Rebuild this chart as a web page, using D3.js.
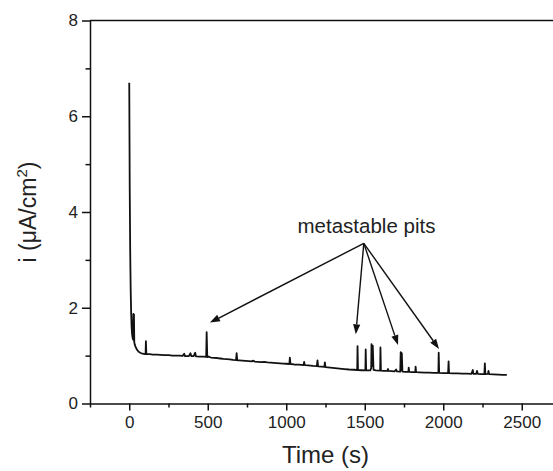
<!DOCTYPE html>
<html><head><meta charset="utf-8">
<script src="https://cdn.jsdelivr.net/npm/d3@7/dist/d3.min.js"></script>
<style>html,body{margin:0;padding:0;background:#fff;overflow:hidden;}svg{display:block;}</style>
</head><body>
<svg id="chart" width="620" height="471"></svg>
<script>
// ---- data ----
// initial decay, time (s) and current (µA/cm²)
const decayTime    = [0, 3, 6, 9, 12, 15, 18, 21, 24, 26, 28, 30, 32, 36, 42, 50, 60, 70, 85, 100];
const decayCurrent = [6.7, 4.5, 3.2, 2.4, 1.9, 1.6, 1.45, 1.38, 1.34, 1.87, 1.32, 1.86, 1.28, 1.22, 1.17, 1.12, 1.08, 1.06, 1.04, 1.03];
// passive region with metastable pit transients
const traceTime = [104,106,109,130,150,175,200,225,250,275,300,320,340,350,355,380,390,395,410,420,425,450,470,490,493,497,505,520,540,560,580,600,620,640,660,680,684,688,700,720,740,760,780,790,800,820,840,860,880,900,920,940,960,980,1000,1020,1023,1027,1050,1080,1110,1114,1118,1140,1170,1195,1199,1203,1225,1243,1246,1250,1280,1310,1340,1370,1400,1430,1452,1454,1457,1480,1504,1506,1509,1520,1535,1541,1543,1547,1551,1556,1570,1598,1600,1603,1620,1645,1648,1652,1670,1690,1700,1705,1726,1729,1733,1736,1740,1760,1778,1780,1783,1800,1822,1824,1827,1850,1880,1910,1940,1969,1971,1974,2000,2031,2034,2037,2060,2090,2120,2150,2180,2188,2192,2210,2215,2220,2240,2262,2265,2268,2285,2288,2292,2320,2350,2380,2405];
const traceCurrent = [1.03,1.30,1.03,1.03,1.02,1.02,1.015,1.01,1.01,1.0,1.0,1.0,0.995,1.04,0.99,0.99,1.05,0.99,0.99,1.06,0.985,0.98,0.98,0.975,1.49,0.97,0.98,0.96,0.955,0.95,0.94,0.93,0.925,0.92,0.91,0.905,1.05,0.9,0.9,0.895,0.89,0.885,0.88,0.895,0.875,0.87,0.865,0.87,0.86,0.855,0.85,0.845,0.84,0.835,0.83,0.825,0.96,0.825,0.815,0.81,0.80,0.87,0.80,0.795,0.785,0.78,0.90,0.775,0.77,0.765,0.86,0.76,0.75,0.74,0.73,0.72,0.71,0.705,0.70,1.20,0.70,0.695,0.69,1.13,0.69,0.69,0.69,0.74,1.24,0.78,1.21,0.70,0.69,0.685,1.17,0.685,0.68,0.68,0.72,0.68,0.675,0.67,0.71,0.67,0.665,1.07,0.70,1.05,0.665,0.66,0.66,0.75,0.66,0.655,0.655,0.77,0.655,0.65,0.645,0.645,0.64,0.64,1.06,0.64,0.635,0.635,0.88,0.635,0.63,0.63,0.625,0.625,0.62,0.70,0.62,0.62,0.68,0.62,0.615,0.615,0.84,0.615,0.62,0.68,0.615,0.61,0.605,0.6,0.6];

const xTicks = [0, 500, 1000, 1500, 2000, 2500];
const xMinorTicks = [-250, 250, 750, 1250, 1750, 2250];
const yTicks = [0, 2, 4, 6, 8];
const yMinorTicks = [1, 3, 5, 7];

const annotationText = "metastable pits";
const annotationLabel = [1511, 3.57];        // text anchor (time, current)
const arrowOrigin = [1494, 3.345];
const arrowTips = [[514, 1.69], [1443, 1.445], [1712, 1.22], [1973, 1.14]];

// ---- drawing ----
const svg = d3.select("#chart");
// the frame runs past the right edge of the 553px window, as in the reference
const x = d3.scaleLinear().domain([-250, 3000]).range([90, 600.25]);
const y = d3.scaleLinear().domain([0, 8]).range([403.5, 20.5]);
const font = "'Liberation Sans', Arial, sans-serif";
const ink = "#111";

// x axis
svg.append("g").attr("transform", `translate(0,${y(0)})`)
  .call(d3.axisBottom(x).tickValues(xTicks).tickFormat(d3.format("d")).tickSize(7).tickSizeOuter(0).tickPadding(5));
svg.append("g").attr("transform", `translate(0,${y(0)})`)
  .call(d3.axisBottom(x).tickValues(xMinorTicks).tickSize(4).tickSizeOuter(0).tickFormat(""))
  .select(".domain").remove();
// y axis
svg.append("g").attr("transform", `translate(${x(-250)},0)`)
  .call(d3.axisLeft(y).tickValues(yTicks).tickFormat(d3.format("d")).tickSize(8).tickSizeOuter(0).tickPadding(4));
svg.append("g").attr("transform", `translate(${x(-250)},0)`)
  .call(d3.axisLeft(y).tickValues(yMinorTicks).tickSize(4.5).tickSizeOuter(0).tickFormat(""))
  .select(".domain").remove();
// top border
svg.append("line").attr("x1", x(-250)).attr("x2", x(3000)).attr("y1", y(8)).attr("y2", y(8))
  .attr("stroke", ink).attr("stroke-width", 1.5);

svg.selectAll(".domain").attr("stroke", ink).attr("stroke-width", 1.5);
svg.selectAll(".tick line").attr("stroke", ink).attr("stroke-width", 1.5);
svg.selectAll(".tick text").attr("font-family", font).attr("font-size", 17).attr("fill", "#222");

// data line
const pts = decayTime.map((t, i) => [t, decayCurrent[i]])
  .concat(traceTime.map((t, i) => [t, traceCurrent[i]]));
svg.append("path").datum(pts)
  .attr("d", d3.line().x(d => x(d[0])).y(d => y(d[1])))
  .attr("fill", "none").attr("stroke", ink).attr("stroke-width", 1.8)
  .attr("stroke-linejoin", "round");

// axis titles
svg.append("text").attr("x", x(1250)).attr("y", 463)
  .attr("text-anchor", "middle").attr("font-family", font).attr("font-size", 24).attr("fill", "#222")
  .text("Time (s)");
const yt = svg.append("text").attr("transform", `translate(36,${(y(0) + y(8)) / 2}) rotate(-90)`)
  .attr("text-anchor", "middle").attr("font-family", font).attr("font-size", 23).attr("fill", "#222");
yt.append("tspan").text("i (\u03BCA/cm");
yt.append("tspan").attr("font-size", 15).attr("dy", -9).text("2");
yt.append("tspan").attr("dy", 9).text(")");

// annotation
svg.append("text").attr("x", x(annotationLabel[0])).attr("y", y(annotationLabel[1]))
  .attr("text-anchor", "middle").attr("font-family", font).attr("font-size", 20.5).attr("fill", "#222")
  .text(annotationText);
const ox = x(arrowOrigin[0]), oy = y(arrowOrigin[1]);
arrowTips.forEach(tp => {
  const tx = x(tp[0]), ty = y(tp[1]);
  const dx = tx - ox, dy = ty - oy, L = Math.hypot(dx, dy);
  const ux = dx / L, uy = dy / L, hl = 10, hw = 3.6;
  const bx = tx - ux * hl, by = ty - uy * hl;
  svg.append("line").attr("x1", ox).attr("y1", oy).attr("x2", bx).attr("y2", by)
    .attr("stroke", ink).attr("stroke-width", 1.4);
  svg.append("polygon")
    .attr("points", [[tx, ty], [bx - uy * hw, by + ux * hw], [bx + uy * hw, by - ux * hw]].map(p => p.join(",")).join(" "))
    .attr("fill", ink);
});
</script>
</body></html>
